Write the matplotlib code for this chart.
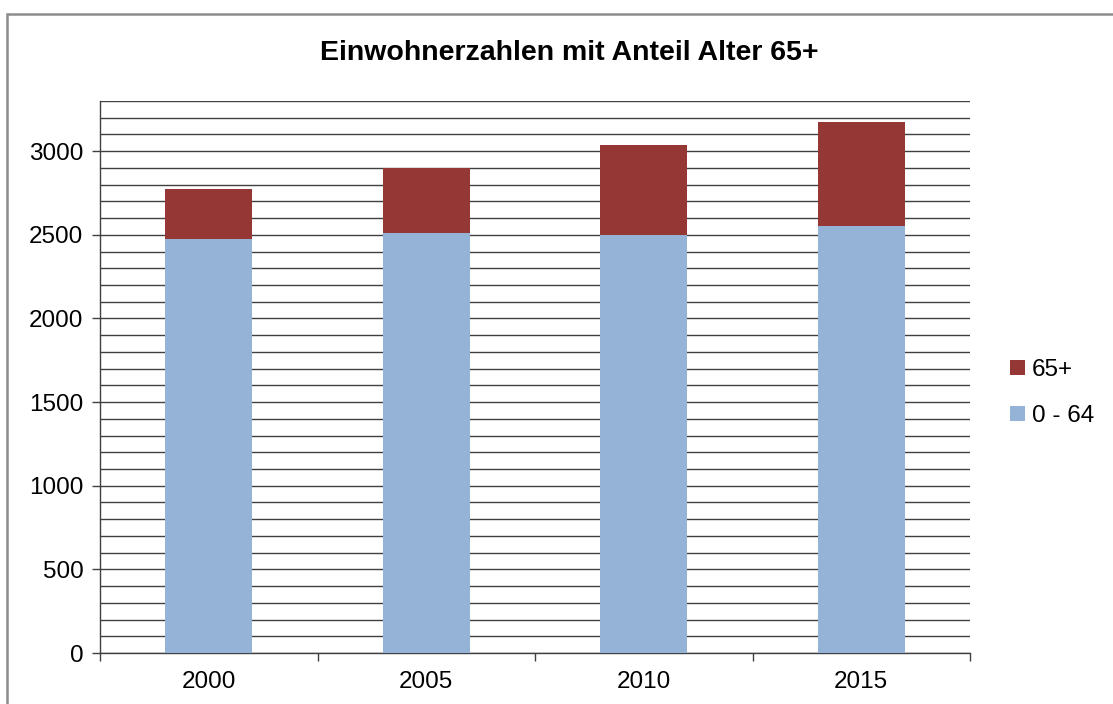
import matplotlib
matplotlib.use("Agg")
import matplotlib.pyplot as plt
from matplotlib.patches import Rectangle
from matplotlib.ticker import MultipleLocator

years = ["2000", "2005", "2010", "2015"]
young = [2475, 2510, 2500, 2555]   # 0 - 64
old = [296, 390, 536, 617]         # 65+

plt.rcParams['font.family'] = ['Liberation Sans', 'DejaVu Sans']

W, H = 1113, 704
fig = plt.figure(figsize=(W / 100, H / 100), dpi=100)
fig.patch.set_facecolor("white")

# figure border (only top and left visible)
fig.add_artist(Rectangle((7 / W, -0.1), 1.2, (H - 14) / H + 0.1, transform=fig.transFigure,
                         fill=False, edgecolor="#8c8c8c", linewidth=1.8))

ax = fig.add_axes([100 / W, 1 - 653 / H, 870 / W, 552 / H])
x = list(range(len(years)))
ax.bar(x, young, width=0.4, color="#95b3d7", label="0 - 64", zorder=3)
ax.bar(x, old, width=0.4, bottom=young, color="#953735", label="65+", zorder=3)

ax.set_xlim(-0.5, 3.5)
ax.set_ylim(0, 3300)
ax.yaxis.set_major_locator(MultipleLocator(500))
ax.yaxis.set_minor_locator(MultipleLocator(100))
ax.grid(axis="y", which="both", color="#404040", linewidth=1.0, zorder=0)
ax.set_axisbelow(True)

ax.set_xticks(x)
ax.set_xticklabels(years)
ax.set_xticks([-0.5, 0.5, 1.5, 2.5, 3.5], minor=True)
ax.tick_params(axis="x", which="major", length=0, labelsize=17.5, pad=13)
ax.tick_params(axis="x", which="minor", length=6, width=1, color="#404040")
ax.tick_params(axis="y", which="major", length=6, width=1, color="#404040", labelsize=17.5, pad=6)
ax.tick_params(axis="y", which="minor", length=0)

for s in ["top", "right"]:
    ax.spines[s].set_visible(False)
for s in ["left", "bottom"]:
    ax.spines[s].set_color("#404040")
    ax.spines[s].set_linewidth(1.0)

fig.text(569 / W, 1 - 53 / H, "Einwohnerzahlen mit Anteil Alter 65+", ha="center", va="center",
         fontsize=20.5, fontweight="bold")

handles, labels = ax.get_legend_handles_labels()
fig.legend(handles[::-1], labels[::-1], loc="center left", bbox_to_anchor=(1010 / W, 1 - 393 / H),
           frameon=False, fontsize=17.5, handlelength=0.6, handleheight=0.6, handletextpad=0.3,
           labelspacing=1.0, borderaxespad=0, borderpad=0)

fig.savefig("out.png", dpi=100)
